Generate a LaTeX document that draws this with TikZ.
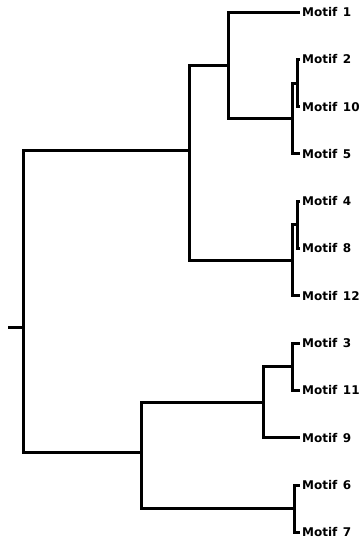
\documentclass[tikz,border=0pt]{standalone}
\usepackage{fontspec}
\setsansfont{DejaVu Sans}
\newcommand\motiflab[1]{Motif\hspace{5.5pt}#1}
\begin{document}
\begin{tikzpicture}[x=1pt,y=-1pt,
  branch/.style={line width=3pt, line join=miter, line cap=butt, draw=black},
  leaf/.style={anchor=west, inner xsep=2pt, inner ysep=0pt,
    font=\sffamily\bfseries\fontsize{12}{14}\selectfont}]
\useasboundingbox (0,0) rectangle (361,541);
% leaves
\node[leaf] (m1)  at (300,12)    {\motiflab{1}};
\node[leaf] (m2)  at (300,59.3)  {\motiflab{2}};
\node[leaf] (m10) at (300,106.6) {\motiflab{10}};
\node[leaf] (m5)  at (300,153.9) {\motiflab{5}};
\node[leaf] (m4)  at (300,201.2) {\motiflab{4}};
\node[leaf] (m8)  at (300,248.5) {\motiflab{8}};
\node[leaf] (m12) at (300,295.8) {\motiflab{12}};
\node[leaf] (m3)  at (300,343.1) {\motiflab{3}};
\node[leaf] (m11) at (300,390.4) {\motiflab{11}};
\node[leaf] (m9)  at (300,437.7) {\motiflab{9}};
\node[leaf] (m6)  at (300,485)   {\motiflab{6}};
\node[leaf] (m7)  at (300,532.3) {\motiflab{7}};
% internal joins
\coordinate (c210)  at (297,83);
\coordinate (c2105) at (292,118.4);
\coordinate (ctopA) at (228,65.2);
\coordinate (c48)   at (297,224.9);
\coordinate (c4812) at (292,260.3);
\coordinate (ctop)  at (189,150);
\coordinate (c311)  at (292,366.8);
\coordinate (c3119) at (263,402.2);
\coordinate (c67)   at (294,508.7);
\coordinate (cbot)  at (141,452);
\coordinate (root)  at (23,327);
\coordinate (stub)  at (8,327);
% branches
\draw[branch] (stub) -- (root);
\draw[branch] (root) |- (ctop);
\draw[branch] (root) |- (cbot);
\draw[branch] (ctop) |- (ctopA);
\draw[branch] (ctop) |- (c4812);
\draw[branch] (ctopA) |- (m1.west);
\draw[branch] (ctopA) |- (c2105);
\draw[branch] (c2105) |- (c210);
\draw[branch] (c2105) |- (m5.west);
\draw[branch] (c210) |- (m2.west);
\draw[branch] (c210) |- (m10.west);
\draw[branch] (c4812) |- (c48);
\draw[branch] (c4812) |- (m12.west);
\draw[branch] (c48) |- (m4.west);
\draw[branch] (c48) |- (m8.west);
\draw[branch] (cbot) |- (c3119);
\draw[branch] (cbot) |- (c67);
\draw[branch] (c3119) |- (c311);
\draw[branch] (c3119) |- (m9.west);
\draw[branch] (c311) |- (m3.west);
\draw[branch] (c311) |- (m11.west);
\draw[branch] (c67) |- (m6.west);
\draw[branch] (c67) |- (m7.west);
\end{tikzpicture}
\end{document}
